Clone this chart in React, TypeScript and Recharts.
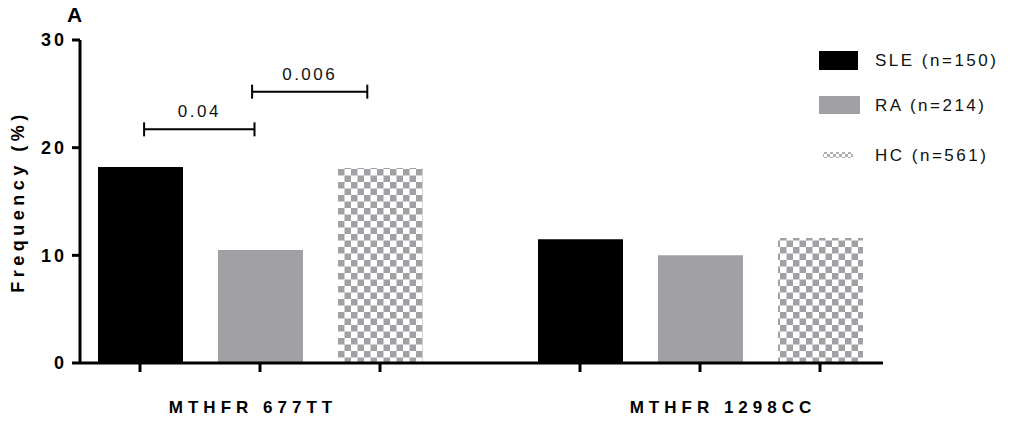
import { BarChart, Bar, XAxis, YAxis, Legend, LabelList } from "recharts"

const categories = ["MTHFR 677TT", "MTHFR 1298CC"]
const sle = [18.2, 11.5]
const ra = [10.5, 10.0]
const hc = [18.1, 11.6]
const yTicks = [0, 10, 20, 30]
const seriesKeys = ["sle", "ra", "hc"]
const seriesNames = ["SLE (n=150)", "RA (n=214)", "HC (n=561)"]

// p-value brackets over the first group, ends given in bar slots (0 = SLE, 1 = RA, 2 = HC)
const bracketFrom = [0.03, 0.93]
const bracketTo = [0.95, 1.89]
const bracketValue = [21.7, 25.2]
const bracketText = ["0.04", "0.006"]

const data = categories.map((name, i) => ({ name, sle: sle[i], ra: ra[i], hc: hc[i] }))

const FONT = "'Liberation Sans', Arial, Helvetica, sans-serif"
const GRAY = "#a1a1a5"
const BAR = 85
const GAP = 35
const STEP = BAR + GAP
const labelShift = [-7, 23]

const YTick = ({ x, y, payload }: any) => (
    <text x={x} y={y} dy="0.36em" textAnchor="end" fontFamily={FONT} fontSize={18}
        fontWeight={700} letterSpacing={3} fill="#000">
        {payload.value}
    </text>
)

const XTick = ({ x, y, payload, index }: any) => (
    <g>
        {[-1, 0, 1].map(k => (
            <line key={k} x1={x + k * STEP} x2={x + k * STEP} y1={y} y2={y + 9}
                stroke="#000" strokeWidth={3} />
        ))}
        <text x={x + (labelShift[index] ?? 0)} y={y + 50} textAnchor="middle" fontFamily={FONT}
            fontSize={17} fontWeight={700} letterSpacing={5} fill="#000">
            {payload.value}
        </text>
    </g>
)

const YLabel = (props: any) => {
    const vb = props.viewBox ?? { x: 0, y: 40, width: 80, height: 323 }
    const cx = vb.x + 18
    const cy = vb.y + vb.height / 2
    return (
        <g>
            <text x={vb.x + 74.5} y={vb.y - 18} textAnchor="middle" fontFamily={FONT}
                fontSize={21} fontWeight={700} fill="#000">A</text>
            <text x={cx} y={cy} transform={`rotate(-90, ${cx}, ${cy})`} textAnchor="middle"
                dominantBaseline="central" fontFamily={FONT} fontSize={18} fontWeight={700}
                letterSpacing={4.5} fill="#000">
                Frequency (%)
            </text>
        </g>
    )
}

const Brackets = (props: any) => {
    const idx = props.index ?? (props.value === sle[0] ? 0 : 1)
    if (idx !== 0) return null
    const vb = props.viewBox ?? props
    const unit = vb.height / props.value
    const base = vb.y + vb.height
    const c0 = vb.x + vb.width / 2
    return (
        <g>
            {bracketText.map((t, i) => {
                const yy = base - bracketValue[i] * unit
                const x1 = c0 + bracketFrom[i] * STEP
                const x2 = c0 + bracketTo[i] * STEP
                return (
                    <g key={t}>
                        <line x1={x1} x2={x2} y1={yy} y2={yy} stroke="#000" strokeWidth={2} />
                        <line x1={x1} x2={x1} y1={yy - 7} y2={yy + 7} stroke="#000" strokeWidth={2} />
                        <line x1={x2} x2={x2} y1={yy - 7} y2={yy + 7} stroke="#000" strokeWidth={2} />
                        <text x={(x1 + x2) / 2} y={yy - 12} textAnchor="middle" fontFamily={FONT}
                            fontSize={17} letterSpacing={2.5} fill="#111">{t}</text>
                    </g>
                )
            })}
        </g>
    )
}

const LegendContent = ({ payload }: any) => {
    const list = payload && payload.length ? payload : []
    const items = seriesKeys.map((key, i) => {
        const found = list.find((p: any) => p.dataKey === key)
        return found ? found.value : seriesNames[i]
    })
    const rows = [20, 65, 115]
    return (
        <svg width={197} height={135} style={{ display: "block" }}>
            <defs>
                <pattern id="checkerSmall" patternUnits="userSpaceOnUse" width={6} height={6}>
                    <rect width={6} height={6} fill="#fff" />
                    <rect x={0} y={0} width={3} height={3} fill="#b0b0b4" />
                    <rect x={3} y={3} width={3} height={3} fill="#b0b0b4" />
                </pattern>
            </defs>
            {items.map((value: string, i: number) => (
                <g key={value}>
                    {i === 0 && <rect x={4} y={rows[i] - 9} width={39} height={19} fill="#000" />}
                    {i === 1 && <rect x={4} y={rows[i] - 9} width={41} height={18} fill={GRAY} />}
                    {i === 2 && <rect x={8} y={rows[i] - 3} width={30} height={6} fill="url(#checkerSmall)" />}
                    <text x={60} y={rows[i]} dy="0.36em" fontFamily={FONT} fontSize={17}
                        letterSpacing={2.5} fill="#111">{value}</text>
                </g>
            ))}
        </svg>
    )
}

const App = () => {
    return (
        <div style={{ position: "absolute", left: 0, top: 0, background: "#fff" }}>
            <BarChart width={1012} height={421} data={data} barGap={GAP} barSize={BAR}
                margin={{ top: 40, right: 129, bottom: 0, left: 0 }}>
                <defs>
                    <pattern id="checker" patternUnits="userSpaceOnUse" width={13} height={13}>
                        <rect width={13} height={13} fill="#fff" />
                        <rect x={0} y={0} width={6.5} height={6.5} fill={GRAY} />
                        <rect x={6.5} y={6.5} width={6.5} height={6.5} fill={GRAY} />
                    </pattern>
                </defs>
                <XAxis dataKey="name" height={58} padding={{ left: -40, right: -37 }}
                    axisLine={{ stroke: "#000", strokeWidth: 3 }} tickLine={false}
                    tickSize={0} tickMargin={0} tick={<XTick />} interval={0} />
                <YAxis width={80} domain={[0, 30]} ticks={yTicks} interval={0}
                    axisLine={{ stroke: "#000", strokeWidth: 3 }}
                    tickLine={{ stroke: "#000", strokeWidth: 3 }} tickSize={8} tickMargin={5}
                    tick={<YTick />} label={YLabel} />
                <Legend layout="vertical" align="center" verticalAlign="middle"
                    content={LegendContent}
                    wrapperStyle={{ left: 815, top: 40, width: 197, height: 135 }} />
                <Bar dataKey="sle" name={seriesNames[0]} fill="#000" isAnimationActive={false}>
                    <LabelList dataKey="sle" content={Brackets} />
                </Bar>
                <Bar dataKey="ra" name={seriesNames[1]} fill={GRAY} isAnimationActive={false} />
                <Bar dataKey="hc" name={seriesNames[2]} fill="url(#checker)" isAnimationActive={false} />
            </BarChart>
        </div>
    )
}

export default App
